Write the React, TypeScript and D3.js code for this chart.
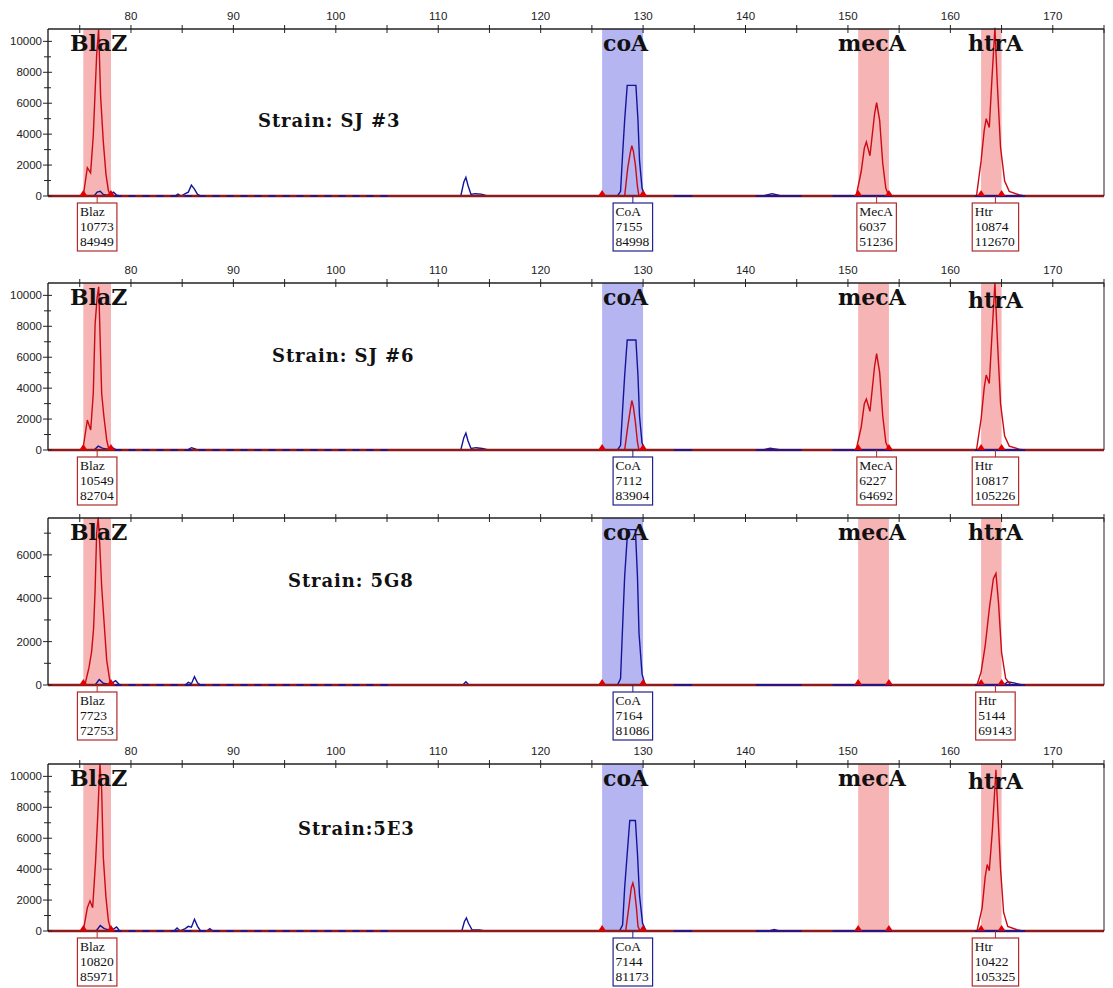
import React from 'react';
import * as d3 from 'd3';

// x axis (fragment size) and panel settings
const xMajorTicks = [80, 90, 100, 110, 120, 130, 140, 150, 160, 170];
const xMinorTicks = [75, 85, 95, 105, 115, 125, 135, 145, 155, 165, 175];
const strains = ['Strain: SJ #3', 'Strain: SJ #6', 'Strain: 5G8', 'Strain:5E3'];
const yMaxes = [10800, 10800, 7700, 10800];
const yMajorTicks = [
  [0, 2000, 4000, 6000, 8000, 10000],
  [0, 2000, 4000, 6000, 8000, 10000],
  [0, 2000, 4000, 6000],
  [0, 2000, 4000, 6000, 8000, 10000],
];
const yMinorTicks = [
  [1000, 3000, 5000, 7000, 9000],
  [1000, 3000, 5000, 7000, 9000],
  [1000, 3000, 5000, 7000],
  [1000, 3000, 5000, 7000, 9000],
];
const showXLabels = [true, true, false, true];

// gene windows
const genes = ['BlaZ', 'coA', 'mecA', 'htrA'];
const geneRanges = [[75.35, 78.05], [126, 130], [151, 154], [163, 165]];
const geneChannel = ['red', 'blue', 'red', 'red'];
const geneCallX = [76.7, 129.0, 152.8, 164.4];

// peak call boxes: [label, height, area]
const calls = [
  [['Blaz', 10773, 84949], ['CoA', 7155, 84998], ['MecA', 6037, 51236], ['Htr', 10874, 112670]],
  [['Blaz', 10549, 82704], ['CoA', 7112, 83904], ['MecA', 6227, 64692], ['Htr', 10817, 105226]],
  [['Blaz', 7723, 72753], ['CoA', 7164, 81086], null, ['Htr', 5144, 69143]],
  [['Blaz', 10820, 85971], ['CoA', 7144, 81173], null, ['Htr', 10422, 105325]],
];

// traces: [size, intensity]
const redSJ3 = [
  [71.9, 0], [75.34, 0], [75.74, 1830], [76.06, 1500], [76.32, 3900], [76.65, 9100], [76.84, 10773], [77.04, 6400],
  [77.3, 3500], [77.56, 1400], [77.79, 375], [78.0, 0],
  [128.2, 0], [128.5, 1800], [128.75, 2800], [128.9, 3250], [129.05, 2900], [129.25, 2000], [129.45, 600], [129.6, 0],
  [150.8, 0], [151.3, 1600], [151.6, 3100], [151.8, 3500], [152.15, 2600], [152.6, 5300], [152.8, 6037], [153.1, 4870],
  [153.4, 2100], [153.7, 500], [154.0, 0],
  [162.55, 0], [163.0, 2270], [163.3, 4220], [163.5, 5000], [163.8, 4430], [164.05, 7470], [164.35, 10874], [164.6, 7030],
  [164.9, 3140], [165.3, 970], [165.75, 300], [166.7, 80], [167.2, 0], [175, 0],
];
const blueSJ3 = [
  [71.9, 0], [76.4, 0], [76.7, 250], [77.0, 300], [77.3, 100], [77.6, 50], [78.0, 120], [78.3, 250], [78.6, 60], [79, 0],
  [84.3, 0], [84.6, 120], [84.9, 0], [85.3, 150], [85.6, 250], [85.9, 700], [86.2, 450], [86.5, 100], [86.8, 0],
  [112.2, 0], [112.5, 900], [112.7, 1200], [112.9, 700], [113.2, 100], [113.6, 150], [114.2, 120], [114.8, 0],
  [127.5, 0], [127.8, 300], [128.0, 2700], [128.2, 4900], [128.45, 7155], [129.3, 7155], [129.5, 4900], [129.65, 2300],
  [129.9, 500], [130.2, 0],
  [141.7, 0], [142.2, 80], [142.6, 150], [143.0, 80], [143.5, 0], [175, 0],
];
const redSJ6 = [
  [71.9, 0], [75.3, 0], [75.74, 1940], [76.07, 1290], [76.32, 3650], [76.5, 8170], [76.7, 9890], [76.85, 10549],
  [76.97, 7740], [77.14, 3650], [77.36, 2150], [77.63, 650], [77.85, 0],
  [128.2, 0], [128.5, 1500], [128.75, 2600], [128.9, 3200], [129.05, 2800], [129.25, 1800], [129.45, 500], [129.6, 0],
  [150.8, 0], [151.3, 1500], [151.6, 3000], [151.8, 3300], [152.15, 2500], [152.6, 5400], [152.8, 6227], [153.1, 5000],
  [153.4, 2200], [153.7, 500], [154.0, 0],
  [162.55, 0], [163.0, 2000], [163.3, 4000], [163.5, 4850], [163.8, 4300], [164.05, 7300], [164.35, 10817], [164.6, 7000],
  [164.9, 3000], [165.3, 900], [165.75, 250], [166.7, 60], [167.2, 0], [175, 0],
];
const blueSJ6 = [
  [71.9, 0], [76.4, 0], [76.8, 250], [77.2, 120], [77.7, 60], [78.2, 150], [78.6, 0],
  [85.5, 0], [85.9, 150], [86.2, 80], [86.5, 0],
  [112.2, 0], [112.5, 800], [112.7, 1100], [112.9, 600], [113.2, 100], [113.7, 150], [114.3, 100], [114.9, 0],
  [127.5, 0], [127.8, 300], [128.0, 2600], [128.2, 4800], [128.45, 7112], [129.3, 7112], [129.5, 4800], [129.65, 2200],
  [129.9, 450], [130.2, 0],
  [141.7, 0], [142.4, 120], [143.0, 60], [143.5, 0], [175, 0],
];
const red5G8 = [
  [71.9, 0], [75.5, 0], [75.9, 800], [76.16, 1540], [76.35, 2600], [76.5, 4380], [76.65, 7000], [76.8, 7723],
  [76.95, 6500], [77.14, 4540], [77.36, 3000], [77.63, 1150], [78.0, 0],
  [162.6, 0], [163.0, 600], [163.4, 1800], [163.8, 3500], [164.2, 4900], [164.45, 5144], [164.7, 3800], [165.0, 1500],
  [165.4, 300], [165.9, 0], [175, 0],
];
const blue5G8 = [
  [71.9, 0], [76.5, 0], [76.9, 250], [77.3, 80], [77.8, 40], [78.2, 100], [78.5, 200], [78.9, 0],
  [85.3, 0], [85.6, 120], [85.9, 60], [86.2, 380], [86.5, 100], [86.8, 0],
  [112.4, 0], [112.7, 150], [113.0, 0],
  [127.5, 0], [127.8, 300], [128.0, 2700], [128.2, 5000], [128.5, 7164], [129.25, 7164], [129.45, 5000], [129.6, 2400],
  [129.9, 500], [130.2, 0],
  [165.2, 0], [165.6, 150], [166.2, 100], [167, 0], [175, 0],
];
const red5E3 = [
  [71.9, 0], [75.34, 0], [75.74, 1500], [76.0, 1950], [76.26, 1500], [76.55, 4550], [76.75, 7360], [76.97, 10820],
  [77.14, 9100], [77.3, 4760], [77.56, 2160], [77.8, 650], [78.05, 0],
  [128.3, 0], [128.6, 1500], [128.85, 2800], [129.0, 3100], [129.15, 2700], [129.35, 1500], [129.5, 300], [129.7, 0],
  [162.6, 0], [163.1, 1500], [163.4, 3500], [163.6, 4300], [163.8, 3900], [164.1, 6500], [164.45, 10422], [164.65, 7500],
  [164.9, 4000], [165.2, 1200], [165.6, 300], [166.5, 80], [167.0, 0], [175, 0],
];
const blue5E3 = [
  [71.9, 0], [76.6, 0], [77.0, 350], [77.4, 150], [77.9, 60], [78.3, 120], [78.6, 260], [78.9, 0],
  [84.2, 0], [84.5, 200], [84.8, 0], [85.3, 150], [85.6, 300], [85.9, 250], [86.2, 760], [86.5, 300], [86.8, 0],
  [87.4, 0], [87.7, 150], [88.0, 0],
  [112.3, 0], [112.55, 600], [112.75, 850], [112.95, 500], [113.3, 80], [114.0, 60], [114.6, 0],
  [127.7, 0], [128.0, 400], [128.2, 2800], [128.45, 5000], [128.7, 7144], [129.25, 7144], [129.45, 5000], [129.65, 2300],
  [129.95, 500], [130.3, 0],
  [142.3, 0], [142.8, 100], [143.3, 0], [175, 0],
];
const redTraces = [redSJ3, redSJ6, red5G8, red5E3];
const blueTraces = [blueSJ3, blueSJ6, blue5G8, blue5E3];
// stretches where the blue trace sits on the baseline
const blueBaseDashed = [[78.4, 105.5]];
const blueBaseSolid = [[133, 134.8], [141, 145.5], [148.5, 154.3], [162.4, 167.3]];

// layout
const W = 1113;
const H = 988;
const LEFT = 48;
const RIGHT = 1104;
const PANEL_H = 167;
const panelTops = [29, 283, 518, 764];
const strainPos = [[258, 98], [272, 79], [288, 69], [298, 71]];
const geneTitleX = [70, 603, 838, 968];
const geneTitleDy = [[22, 22, 22, 22], [22, 22, 22, 25], [22, 22, 22, 22], [22, 22, 22, 25]];

const RED = '#cc0a14';
const BASE_RED = '#8e1b1b';
const BLUE = '#14149a';
const SHADE_RED = '#f6b4b4';
const SHADE_BLUE = '#b5b5f2';
const BOX_RED = '#b02a2a';
const BOX_BLUE = '#22228e';

const x = d3.scaleLinear().domain([71.9, 175]).range([LEFT, RIGHT]);

const Panel = ({ i }: { i: number }) => {
  const top = panelTops[i];
  const base = top + PANEL_H;
  const y = d3.scaleLinear().domain([0, yMaxes[i]]).range([base, top]);
  const line = d3.line<number[]>().x((d) => x(d[0])).y((d) => y(d[1]));
  const clipId = `clip-${i}`;

  return (
    <g>
      <defs>
        <clipPath id={clipId}>
          <rect x={LEFT} y={top - 2} width={RIGHT - LEFT} height={PANEL_H + 4} />
        </clipPath>
      </defs>

      {/* gene windows */}
      {genes.map((g, k) => (
        <rect
          key={g}
          x={x(geneRanges[k][0])}
          y={top}
          width={x(geneRanges[k][1]) - x(geneRanges[k][0])}
          height={PANEL_H}
          fill={geneChannel[k] === 'red' ? SHADE_RED : SHADE_BLUE}
        />
      ))}

      {/* traces */}
      <g clipPath={`url(#${clipId})`}>
        <path d={line(blueTraces[i] as number[][]) || ''} fill="none" stroke={BLUE} strokeWidth={1.4} />
        <path d={line(redTraces[i] as number[][]) || ''} fill="none" stroke={RED} strokeWidth={1.4} />
      </g>

      {/* baseline */}
      <line x1={LEFT} x2={RIGHT} y1={base} y2={base} stroke={BASE_RED} strokeWidth={2.5} />
      {blueBaseDashed.map((r, k) => (
        <line key={'d' + k} x1={x(r[0])} x2={x(r[1])} y1={base} y2={base} stroke={BLUE} strokeWidth={2} strokeDasharray="7 7" opacity={0.85} />
      ))}
      {blueBaseSolid.map((r, k) => (
        <line key={'s' + k} x1={x(r[0])} x2={x(r[1])} y1={base} y2={base} stroke={BLUE} strokeWidth={2} opacity={0.85} />
      ))}

      {/* window markers */}
      {geneRanges.flat().map((v, k) => (
        <path
          key={'t' + k}
          d={`M${x(v) - 4},${base} L${x(v)},${base - 6} L${x(v) + 4},${base} Z`}
          fill="#e00000"
        />
      ))}

      {/* frame */}
      <line x1={LEFT} x2={RIGHT} y1={top} y2={top} stroke="#222" strokeWidth={1.3} />
      <line x1={LEFT} x2={LEFT} y1={top} y2={base} stroke="#111" strokeWidth={1.3} />
      <line x1={RIGHT} x2={RIGHT} y1={top} y2={base} stroke="#222" strokeWidth={1} />

      {/* x ticks on top */}
      {[...xMajorTicks, ...xMinorTicks].map((t) => (
        <line key={'xt' + t} x1={x(t)} x2={x(t)} y1={top - 4} y2={top + 4} stroke="#222" strokeWidth={1} />
      ))}
      {showXLabels[i] &&
        xMajorTicks.map((t) => (
          <text
            key={'xl' + t}
            x={x(t)}
            y={top - 9}
            textAnchor="middle"
            fontFamily="Liberation Sans, Arial, sans-serif"
            fontSize={11.5}
            fill="#222"
          >
            {t}
          </text>
        ))}

      {/* y ticks */}
      {yMajorTicks[i].map((t) => (
        <g key={'yt' + t}>
          <line x1={LEFT - 5} x2={LEFT + 4} y1={y(t)} y2={y(t)} stroke="#222" strokeWidth={1} />
          <text
            x={LEFT - 6}
            y={y(t)}
            dy="0.35em"
            textAnchor="end"
            fontFamily="Liberation Sans, Arial, sans-serif"
            fontSize={11.5}
            fill="#222"
          >
            {t}
          </text>
        </g>
      ))}
      {yMinorTicks[i].map((t) => (
        <line key={'ym' + t} x1={LEFT - 4} x2={LEFT + 3} y1={y(t)} y2={y(t)} stroke="#222" strokeWidth={1} />
      ))}

      {/* gene titles */}
      {genes.map((g, k) => (
        <text
          key={'g' + g}
          x={geneTitleX[k]}
          y={top + geneTitleDy[i][k]}
          fontFamily="DejaVu Serif, serif"
          fontWeight="bold"
          fontSize={22}
          fill="#111"
        >
          {g}
        </text>
      ))}

      {/* strain label */}
      <text
        x={strainPos[i][0]}
        y={top + strainPos[i][1]}
        fontFamily="DejaVu Serif, serif"
        fontWeight="bold"
        fontSize={18}
        letterSpacing={0.9}
        fill="#111"
      >
        {strains[i]}
      </text>

      {/* peak call boxes */}
      {calls[i].map((c, k) => {
        if (!c) return null;
        const cx = x(geneCallX[k]);
        const col = geneChannel[k] === 'red' ? BOX_RED : BOX_BLUE;
        const lines = c.map(String);
        const maxLen = Math.max(...lines.map((s) => s.length));
        const bw = maxLen * 6.9 + 5;
        const bx = cx - bw / 2;
        const by = base + 7;
        return (
          <g key={'c' + k}>
            <line x1={cx} x2={cx} y1={base} y2={by} stroke={col} strokeWidth={1} />
            <rect x={bx} y={by} width={bw} height={48} fill="white" stroke={col} strokeWidth={1.2} />
            {lines.map((s, j) => (
              <text
                key={j}
                x={bx + 2.5}
                y={by + 13 + j * 15}
                fontFamily="Liberation Serif, Times New Roman, serif"
                fontSize={13.5}
                fill="#111"
              >
                {s}
              </text>
            ))}
          </g>
        );
      })}
    </g>
  );
};

export default function App() {
  return (
    <svg
      width={W}
      height={H}
      viewBox={`0 0 ${W} ${H}`}
      style={{ position: 'absolute', left: 0, top: 0, background: 'white' }}
    >
      <rect x={0} y={0} width={W} height={H} fill="white" />
      {panelTops.map((_, i) => (
        <Panel key={i} i={i} />
      ))}
    </svg>
  );
}
